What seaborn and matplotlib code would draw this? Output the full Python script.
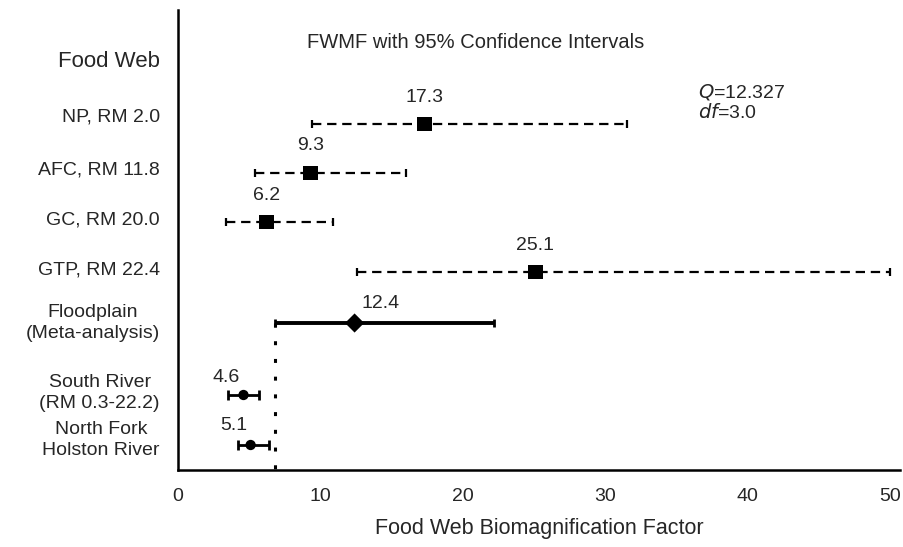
import matplotlib
matplotlib.use("Agg")
import matplotlib.pyplot as plt
import seaborn as sns
import pandas as pd

# ---- data ----
labels = ["NP, RM 2.0", "AFC, RM 11.8", "GC, RM 20.0", "GTP, RM 22.4",
          "Floodplain\n(Meta-analysis)", "South River\n(RM 0.3-22.2)", "North Fork\nHolston River"]
fwmf = [17.3, 9.3, 6.2, 25.1, 12.4, 4.6, 5.1]
ci_low = [9.4, 5.4, 3.4, 12.6, 6.8, 3.5, 4.2]
ci_high = [31.5, 16.0, 10.9, 50.0, 22.2, 5.7, 6.4]
value_text = ["17.3", "9.3", "6.2", "25.1", "12.4", "4.6", "5.1"]
kind = ["site", "site", "site", "site", "meta", "river", "river"]
xticks = [0, 10, 20, 30, 40, 50]

# layout (row vertical positions in figure pixels from top)
row_y = [124, 173, 222, 272, 323, 395, 445]
label_y = [117, 170, 220, 270, 323, 393, 440]
val_dx = [0.0, 0.0, 0.0, 0.0, 1.8, -1.2, -1.2]
val_dy = [-27, -27, -27, -27, -20, -18, -19]

df = pd.DataFrame({"label": labels, "fwmf": fwmf, "lo": ci_low, "hi": ci_high,
                   "y": row_y, "kind": kind})

sns.set_style("white")
plt.rcParams["font.family"] = ["Liberation Sans", "DejaVu Sans"]

W, H = 904, 547
fig = plt.figure(figsize=(W / 100, H / 100), dpi=100)
ax = fig.add_axes([178 / W, 1 - 470 / H, (900 - 178) / W, (470 - 10) / H])
ax.set_xlim(0, 50.7)
ax.set_ylim(470, 10)

# confidence intervals
for _, r in df.iterrows():
    if r["kind"] == "site":
        ax.hlines(r["y"], r["lo"], r["hi"], colors="black", linewidth=1.6,
                  linestyles=(0, (4.2, 2.6)), zorder=2)
        ax.vlines([r["lo"], r["hi"]], r["y"] - 4, r["y"] + 4, colors="black", linewidth=1.6, zorder=2)
    elif r["kind"] == "meta":
        ax.hlines(r["y"], r["lo"], r["hi"], colors="black", linewidth=2.8, zorder=2)
        ax.vlines([r["lo"], r["hi"]], r["y"] - 4, r["y"] + 4, colors="black", linewidth=2.0, zorder=2)
        # dotted reference line at lower CI of the meta-analysis
        ax.vlines(r["lo"], r["y"], 470, colors="black", linewidth=2.2,
                  linestyles=(0, (1.3, 4.5)), zorder=1)
    else:
        ax.hlines(r["y"], r["lo"], r["hi"], colors="black", linewidth=2.0, zorder=2)
        ax.vlines([r["lo"], r["hi"]], r["y"] - 5, r["y"] + 5, colors="black", linewidth=2.0, zorder=2)

# point estimates
sns.scatterplot(data=df, x="fwmf", y="y", style="kind",
                markers={"site": "s", "meta": "D", "river": "o"},
                size="kind", sizes={"site": 110, "meta": 95, "river": 55},
                color="black", edgecolor="black", linewidth=0, legend=False, ax=ax, zorder=3)

for v, t, yy, dx, dy in zip(fwmf, value_text, row_y, val_dx, val_dy):
    ax.text(v + dx, yy + dy, t, ha="center", va="center", fontsize=14)

# axes styling
for s in ["top", "right"]:
    ax.spines[s].set_visible(False)
ax.spines["left"].set_linewidth(1.8)
ax.spines["bottom"].set_linewidth(1.8)
ax.spines["left"].set_color("black")
ax.spines["bottom"].set_color("black")
ax.set_xticks(xticks)
ax.set_xticklabels([str(t) for t in xticks], fontsize=14)
ax.tick_params(axis="x", direction="out", length=5, width=1.5, color="black", pad=8)
ax.set_yticks([])
ax.set_ylabel("")
ax.set_xlabel("Food Web Biomagnification Factor", fontsize=15.5, labelpad=9)

# title and stats
ax.text((476 - 178) / 14.24, 43, "FWMF with 95% Confidence Intervals", ha="center", va="center", fontsize=14.5)
ax.text((698 - 178) / 14.24, 92, r"$Q$=12.327", ha="left", va="center", fontsize=14)
ax.text((698 - 178) / 14.24, 113, r"$df$=3.0", ha="left", va="center", fontsize=14)

# left labels
fig.text(160 / W, 1 - 62 / H, "Food Web", ha="right", va="center", fontsize=16)
for lab, ly in zip(labels, label_y):
    fig.text(160 / W, 1 - ly / H, lab, ha="right", va="center", multialignment="center",
             fontsize=14, linespacing=1.3)

fig.savefig("out.png", dpi=100)
